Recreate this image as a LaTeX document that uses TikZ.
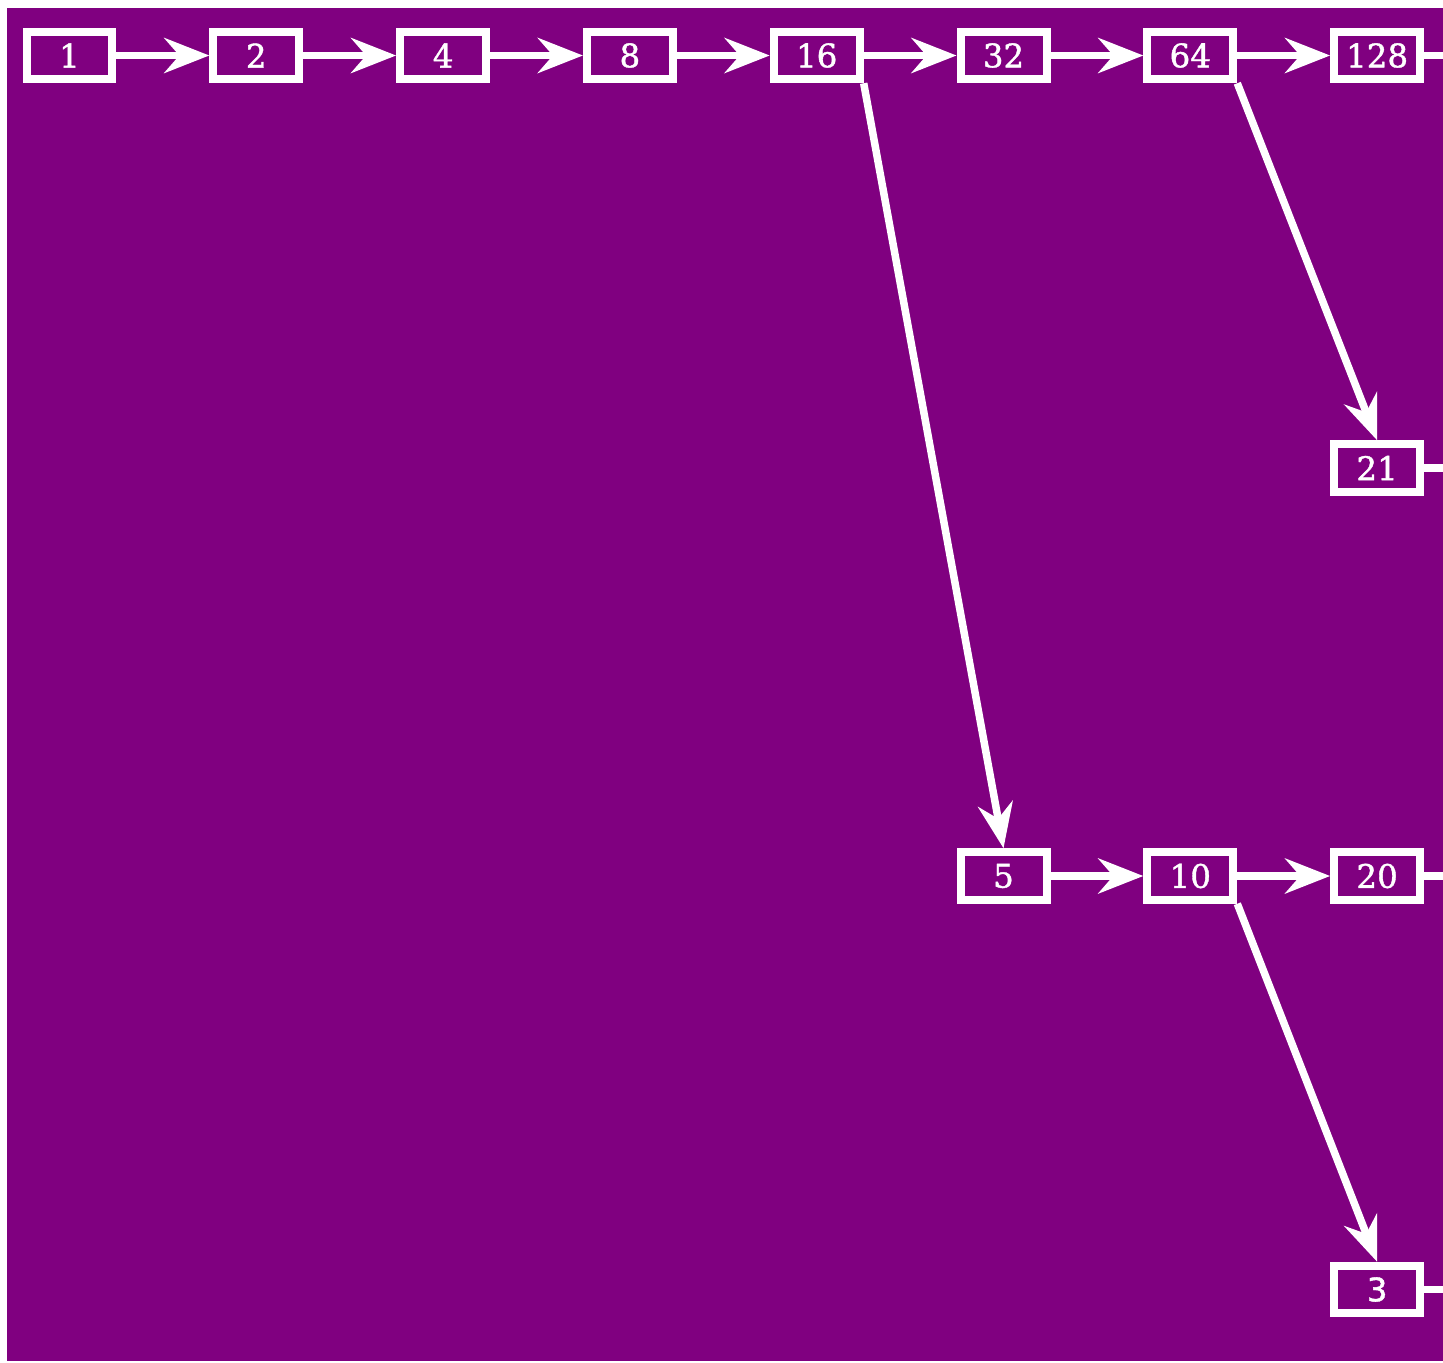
\documentclass[tikz,border=0pt]{standalone}
\usepackage{fontspec}
\setmainfont{DejaVu Serif}[FakeBold=1.2]
\newfontfamily\digitsans{DejaVu Sans}[FakeBold=1.2]
\usetikzlibrary{arrows.meta}
\definecolor{ListPurple}{HTML}{800080}

\begin{document}
\begin{tikzpicture}[x=0.02cm,y=-0.02cm,
cell/.style={draw=white,line width=1.6mm,minimum width=1.72cm,minimum height=0.95cm,inner sep=0pt,text=white,font=\fontsize{18.5}{22}\selectfont},
link/.style={-{Stealth[length=9mm,width=7mm,inset=3mm]},line width=1.5mm,draw=white}
]
\useasboundingbox (0,0) rectangle (1443,1362);
\fill[ListPurple] (7,8) rectangle (1443,1361);
\clip (7,8) rectangle (1443,1361);
% top row
\node[cell] (p1) at (69.5,55.5) {1};
\node[cell] (p2) at (256.3,55.5) {2};
\node[cell] (p4) at (443.1,55.5) {4};
\node[cell] (p8) at (629.9,55.5) {8};
\node[cell] (p16) at (816.7,55.5) {16};
\node[cell] (p32) at (1003.5,55.5) {32};
\node[cell] (p64) at (1190.3,55.5) {64};
\node[cell] (p128) at (1377.1,55.5) {128};
\coordinate (p256) at (1563.9,55.5);
% lower rows
\node[cell] (p21) at (1377.1,468) {21};
\coordinate (p21next) at (1563.9,468);
\node[cell] (p5) at (1003.5,876) {5};
\node[cell] (p10) at (1190.3,876) {10};
\node[cell] (p20) at (1377.1,876) {20};
\coordinate (p20next) at (1563.9,876);
\node[cell,font=\fontsize{18.5}{22}\digitsans] (p3) at (1377.1,1289.5) {3};
\coordinate (p3next) at (1563.9,1289.5);
\draw[link] (p1) -- (p2);
\draw[link] (p2) -- (p4);
\draw[link] (p4) -- (p8);
\draw[link] (p8) -- (p16);
\draw[link] (p16) -- (p32);
\draw[link] (p32) -- (p64);
\draw[link] (p64) -- (p128);
\draw[link] (p128) -- (p256);
\draw[link] (p16.south east) -- (p5.north);
\draw[link] (p64.south east) -- (p21.north);
\draw[link] (p21) -- (p21next);
\draw[link] (p5) -- (p10);
\draw[link] (p10) -- (p20);
\draw[link] (p20) -- (p20next);
\draw[link] (p10.south east) -- (p3.north);
\draw[link] (p3) -- (p3next);
\end{tikzpicture}
\end{document}
